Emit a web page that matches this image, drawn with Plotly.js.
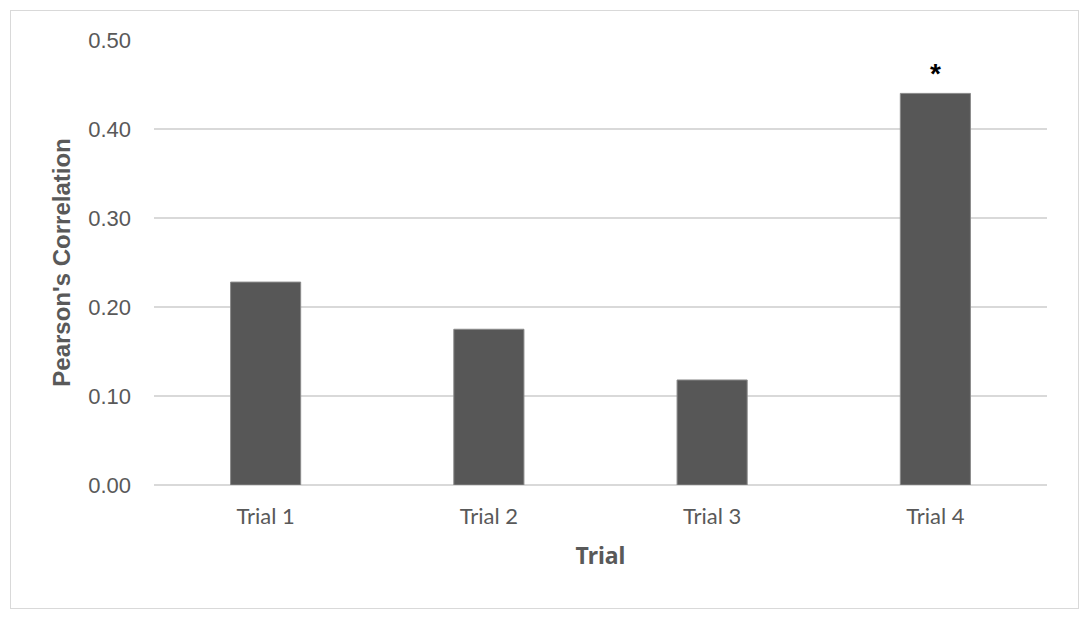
<!DOCTYPE html>
<html>
<head>
<meta charset="utf-8">
<script src="https://cdn.plot.ly/plotly-3.0.1.min.js"></script>
<style>
  body { margin: 0; background: #fff; }
  #chart { position: absolute; left: 10px; top: 10px; width: 1067px; height: 597px; border: 1px solid #d9d9d9; }
</style>
</head>
<body>
<div id="chart"></div>
<script>
// values
var trials = ['Trial 1', 'Trial 2', 'Trial 3', 'Trial 4'];
var pearson = [0.228, 0.175, 0.118, 0.440];
var marks = ['', '', '', '*'];

var bars = {
    x: trials,
    y: pearson,
    type: 'bar',
    marker: {
        color: '#575757',
        line: { color: '#8a8a8a', width: 1 }
    },
    hoverinfo: 'x+y'
};

var notes = [];
for (let i = 0; i < trials.length; i++) {
    if (marks[i] != '') {
        notes.push({
            x: trials[i],
            y: pearson[i],
            text: '<b>' + marks[i] + '</b>',
            showarrow: false,
            yanchor: 'bottom',
            yshift: 2,
            font: { family: 'Liberation Sans', size: 28, color: '#000' }
        })
    }
}

var layout = {
    width: 1067,
    height: 597,
    margin: { l: 143, r: 31, t: 29, b: 123 },
    paper_bgcolor: '#fff',
    plot_bgcolor: '#fff',
    showlegend: false,
    bargap: 0.686,
    xaxis: {
        tickfont: { family: 'Lato, Noto Sans', size: 22, color: '#595959' },
        ticklabelstandoff: 16,
        showline: false,
        title: {
            text: '<b>Trial</b>',
            font: { family: 'Noto Sans', size: 23, color: '#595959' },
            standoff: 19
        }
    },
    yaxis: {
        range: [0, 0.5],
        tickvals: [0, 0.1, 0.2, 0.3, 0.4, 0.5],
        tickformat: '.2f',
        tickfont: { family: 'Liberation Sans', size: 22, color: '#595959' },
        ticklabelstandoff: 22,
        gridcolor: '#d9d9d9',
        gridwidth: 1.5,
        zeroline: true,
        zerolinecolor: '#d9d9d9',
        zerolinewidth: 1.5,
        showline: false,
        title: {
            text: '<b>Pearson\'s Correlation</b>',
            font: { family: 'Liberation Sans', size: 24, color: '#595959' },
            standoff: 10
        }
    },
    annotations: notes
};

Plotly.newPlot('chart', [bars], layout, { displayModeBar: false, staticPlot: true });
</script>
</body>
</html>
